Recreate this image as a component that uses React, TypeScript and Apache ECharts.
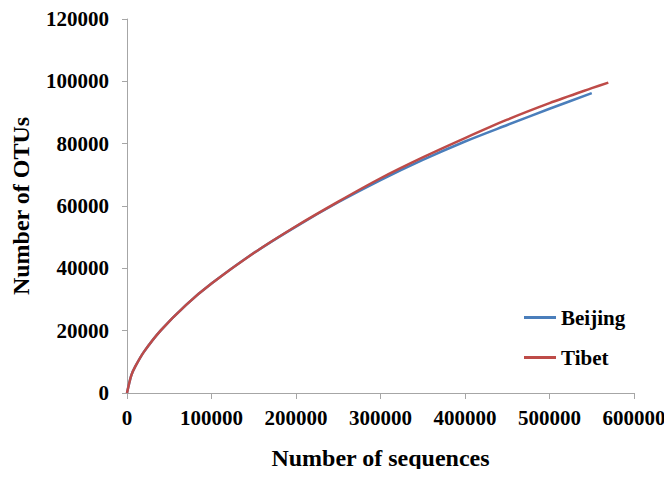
import React, { useEffect, useRef } from "react";
import * as echarts from "echarts";

const seqX = [0, 5000, 10000, 20000, 40000, 70000, 100000, 150000, 200000, 250000, 300000, 350000, 400000, 450000, 500000, 550000];
const beijingY = [0, 5600, 8600, 13200, 20100, 28300, 35100, 44900, 53400, 61200, 68300, 74800, 80700, 86000, 91200, 96200];
const tibetX = [0, 5000, 10000, 20000, 40000, 70000, 100000, 150000, 200000, 250000, 300000, 350000, 400000, 450000, 500000, 550000, 569600];
const tibetY = [0, 5600, 8600, 13200, 20100, 28300, 35100, 44900, 53500, 61400, 68900, 75600, 81800, 87700, 93000, 97800, 99600];

const FONT = "Liberation Serif";

export default function App() {
  const ref = useRef<HTMLDivElement>(null);
  useEffect(() => {
    if (!ref.current) return;
    const chart = echarts.init(ref.current, null, { renderer: "svg" });
    const axisGrey = "#A6A6A6";
    chart.setOption({
      animation: false,
      backgroundColor: "#fff",
      textStyle: { fontFamily: FONT },
      grid: { left: 127, right: 38, top: 19, bottom: 84, containLabel: false },
      legend: {
        orient: "vertical",
        left: 519,
        top: 302,
        itemWidth: 32,
        itemHeight: 3,
        itemGap: 19,
        icon: "rect",
        textStyle: { fontFamily: FONT, fontWeight: "bold", fontSize: 21, color: "#000" },
        data: ["Beijing", "Tibet"],
      },
      xAxis: {
        type: "value",
        min: 0,
        max: 600000,
        interval: 100000,
        name: "Number of sequences",
        nameLocation: "middle",
        nameGap: 53,
        nameTextStyle: { fontFamily: FONT, fontWeight: "bold", fontSize: 24, color: "#000" },
        axisLine: { show: true, lineStyle: { color: axisGrey, width: 1 } },
        axisTick: { show: true, length: 6, lineStyle: { color: axisGrey } },
        axisLabel: {
          fontFamily: FONT,
          fontWeight: "bold",
          fontSize: 21,
          color: "#000",
          margin: 14,
          formatter: (v: number) => String(v),
        },
        splitLine: { show: false },
      },
      yAxis: {
        type: "value",
        min: 0,
        max: 120000,
        interval: 20000,
        name: "Number of OTUs",
        nameLocation: "middle",
        nameRotate: 90,
        nameGap: 94,
        nameTextStyle: { fontFamily: FONT, fontWeight: "bold", fontSize: 24, color: "#000" },
        axisLine: { show: true, lineStyle: { color: axisGrey, width: 1 } },
        axisTick: { show: true, length: 5, lineStyle: { color: axisGrey } },
        axisLabel: {
          fontFamily: FONT,
          fontWeight: "bold",
          fontSize: 21,
          color: "#000",
          margin: 18,
          formatter: (v: number) => String(v),
        },
        splitLine: { show: false },
      },
      series: [
        {
          name: "Beijing",
          type: "line",
          smooth: 0.3,
          showSymbol: false,
          symbol: "none",
          color: "#4A7EBB",
          lineStyle: { width: 2.5, color: "#4A7EBB" },
          data: seqX.map((x, i) => [x, beijingY[i]]),
        },
        {
          name: "Tibet",
          type: "line",
          smooth: 0.3,
          showSymbol: false,
          symbol: "none",
          color: "#BE4B48",
          lineStyle: { width: 2.5, color: "#BE4B48" },
          data: tibetX.map((x, i) => [x, tibetY[i]]),
        },
      ],
    });
    return () => chart.dispose();
  }, []);
  return <div ref={ref} style={{ width: 672, height: 477, margin: -8 }} />;
}
